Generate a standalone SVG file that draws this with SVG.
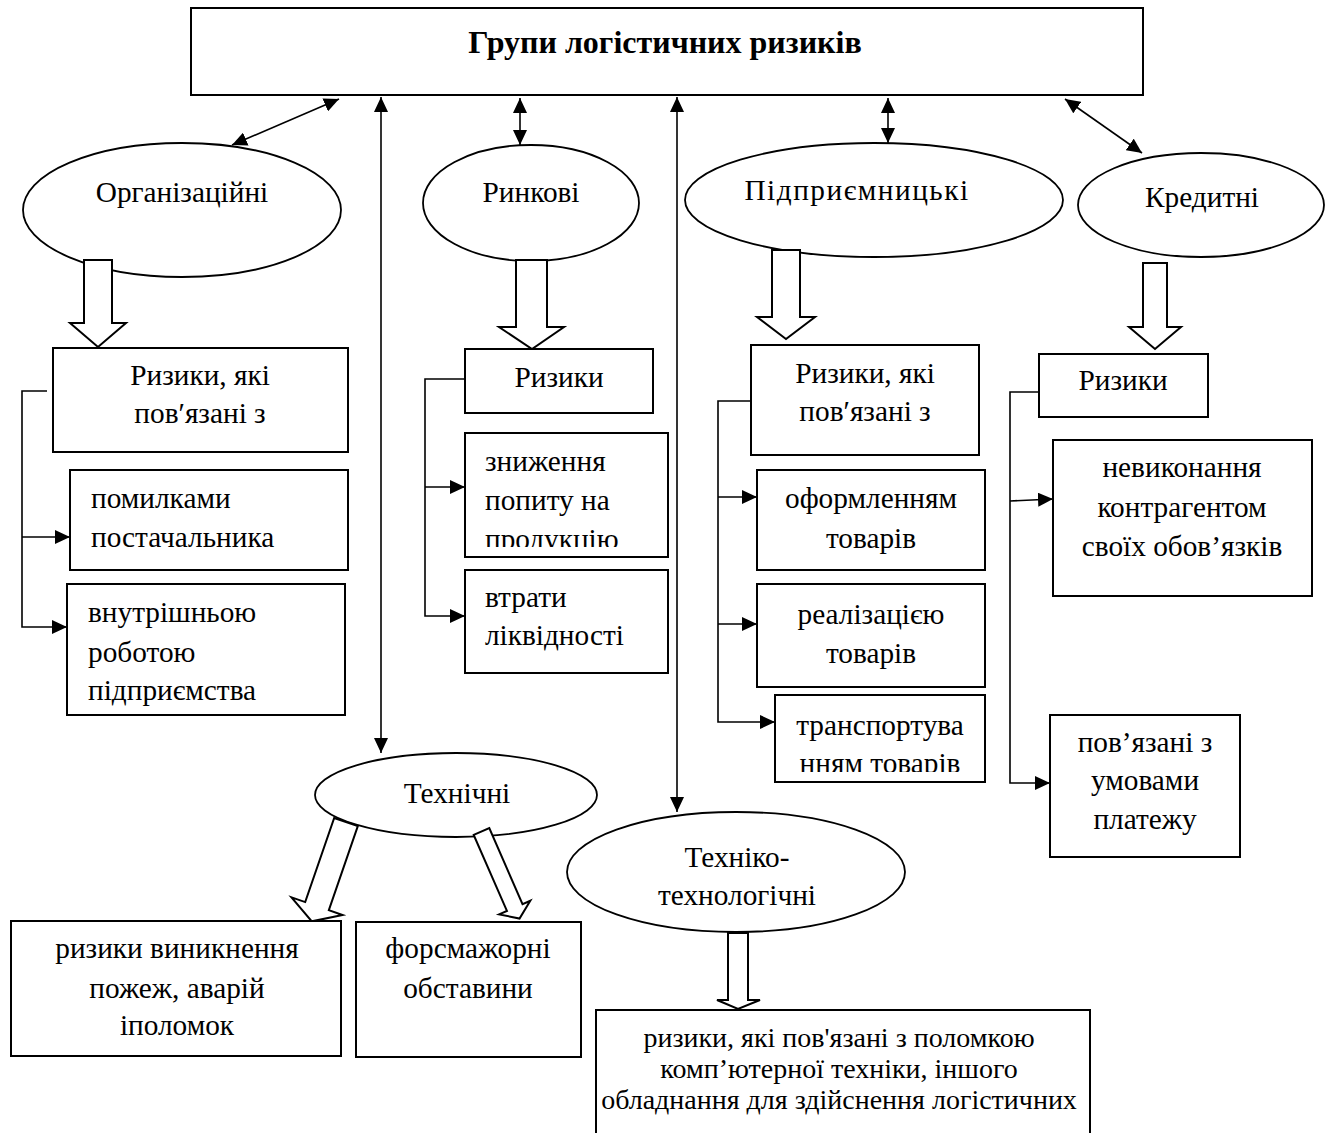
<svg xmlns="http://www.w3.org/2000/svg" width="1334" height="1133" viewBox="0 0 1334 1133">
<style>
.box{fill:#fff;stroke:#000;stroke-width:2}
.ell{fill:#fff;stroke:#000;stroke-width:1.8}
.ln{fill:none;stroke:#000;stroke-width:1.6}
.ba{fill:#fff;stroke:#000;stroke-width:2;stroke-linejoin:miter}
.t{font-family:"Liberation Serif","Times New Roman",serif;font-size:29.3px;fill:#000}
.c{text-anchor:middle}
.b{font-weight:bold;font-size:32px}
.s{font-size:28px}
</style>
<defs>
<marker id="ah" markerUnits="userSpaceOnUse" markerWidth="15" markerHeight="14" viewBox="0 0 15 14" refX="15" refY="7" orient="auto-start-reverse"><path d="M0,0 L15,7 L0,14 z" fill="#000"/></marker>
<clipPath id="clipA"><rect x="466" y="434" width="201" height="113"/></clipPath>
<clipPath id="clipB"><rect x="776" y="696" width="208" height="76"/></clipPath>
</defs>
<rect width="1334" height="1133" fill="#fff"/>

<g id="top">
<rect class="box" x="191" y="8" width="952" height="87"/>
<text class="t c b" x="665" y="53">Групи логістичних ризиків</text>
</g>

<g id="connectors">
<line class="ln" x1="339" y1="99" x2="232" y2="145" marker-start="url(#ah)" marker-end="url(#ah)"/>
<line class="ln" x1="381" y1="97" x2="381" y2="753" marker-start="url(#ah)" marker-end="url(#ah)"/>
<line class="ln" x1="520" y1="98" x2="520" y2="145" marker-start="url(#ah)" marker-end="url(#ah)"/>
<line class="ln" x1="677" y1="97" x2="677" y2="812" marker-start="url(#ah)" marker-end="url(#ah)"/>
<line class="ln" x1="888" y1="98" x2="888" y2="143" marker-start="url(#ah)" marker-end="url(#ah)"/>
<line class="ln" x1="1065" y1="99" x2="1142" y2="153" marker-start="url(#ah)" marker-end="url(#ah)"/>
<path class="ln" d="M47,391 H22 V627 H67" marker-end="url(#ah)"/>
<path class="ln" d="M22,537 H70" marker-end="url(#ah)"/>
<path class="ln" d="M465,379 H425 V616 H465" marker-end="url(#ah)"/>
<path class="ln" d="M425,487 H465" marker-end="url(#ah)"/>
<path class="ln" d="M755,401 H718 V722 H775" marker-end="url(#ah)"/>
<path class="ln" d="M718,497 H757" marker-end="url(#ah)"/>
<path class="ln" d="M718,624 H757" marker-end="url(#ah)"/>
<path class="ln" d="M1039,392 H1010 V783 H1050" marker-end="url(#ah)"/>
<path class="ln" d="M1010,501 L1053,499" marker-end="url(#ah)"/>
</g>

<g id="org">
<ellipse class="ell" cx="182" cy="210" rx="159" ry="67"/>
<text class="t c" x="182" y="202">Організаційні</text>
</g>
<g id="market">
<ellipse class="ell" cx="531" cy="203" rx="108" ry="58"/>
<text class="t c" x="531" y="202">Ринкові</text>
</g>
<g id="entre">
<ellipse class="ell" cx="874" cy="200" rx="189" ry="57"/>
<text class="t c" x="857" y="200" letter-spacing="1.5">Підприємницькі</text>
</g>
<g id="credit">
<ellipse class="ell" cx="1201" cy="205" rx="123" ry="52"/>
<text class="t c" x="1202" y="207">Кредитні</text>
</g>
<g id="tech">
<ellipse class="ell" cx="456" cy="795" rx="141" ry="42"/>
<text class="t c" x="457" y="803">Технічні</text>
</g>
<g id="techno">
<ellipse class="ell" cx="736" cy="872" rx="169" ry="60"/>
<text class="t c" x="737" y="867">Техніко-</text>
<text class="t c" x="737" y="905">технологічні</text>
</g>

<g id="block-arrows">
<polygon class="ba" points="84,260 112,260 112,323 126,323 98,347 70,323 84,323"/>
<polygon class="ba" points="516,260 547,260 547,327 564,327 532,349 499,327 516,327"/>
<polygon class="ba" points="772,250 800,250 800,317 815,317 786,339 757,317 772,317"/>
<polygon class="ba" points="1143,263 1167,263 1167,327 1181,327 1155,349 1129,327 1143,327"/>
<polygon class="ba" points="728,933 748,933 748,1000 760,1000 738,1009 717,1000 728,1000"/>
<polygon class="ba" transform="translate(346,822) rotate(19)" points="-12.5,0 12.5,0 12.5,89 27,89 0,105 -27,89 -12.5,89"/>
<polygon class="ba" transform="translate(481.5,831.5) rotate(-23.6)" points="-8.5,0 8.5,0 8.5,83 17,83 0,95 -17,83 -8.5,83"/>
</g>

<g id="org-main">
<rect class="box" x="53" y="348" width="295" height="104"/>
<text class="t c" x="200" y="385">Ризики, які</text>
<text class="t c" x="200" y="423">пов′язані з</text>
</g>
<g id="org-1">
<rect class="box" x="70" y="470" width="278" height="100"/>
<text class="t" x="91" y="508">помилками</text>
<text class="t" x="91" y="547">постачальника</text>
</g>
<g id="org-2">
<rect class="box" x="67" y="584" width="278" height="131"/>
<text class="t" x="88" y="622">внутрішньою</text>
<text class="t" x="88" y="662">роботою</text>
<text class="t" x="88" y="700">підприємства</text>
</g>

<g id="market-main">
<rect class="box" x="465" y="349" width="188" height="64"/>
<text class="t c" x="559" y="387">Ризики</text>
</g>
<g id="market-1">
<rect class="box" x="465" y="433" width="203" height="124"/>
<g clip-path="url(#clipA)">
<text class="t" x="485" y="471">зниження</text>
<text class="t" x="485" y="510">попиту на</text>
<text class="t" x="485" y="549">продукцію</text>
</g>
</g>
<g id="market-2">
<rect class="box" x="465" y="570" width="203" height="103"/>
<text class="t" x="485" y="607">втрати</text>
<text class="t" x="485" y="645">ліквідності</text>
</g>

<g id="entre-main">
<rect class="box" x="751" y="345" width="228" height="110"/>
<text class="t c" x="865" y="383">Ризики, які</text>
<text class="t c" x="865" y="421">пов′язані з</text>
</g>
<g id="entre-1">
<rect class="box" x="757" y="470" width="228" height="100"/>
<text class="t c" x="871" y="508">оформленням</text>
<text class="t c" x="871" y="548">товарів</text>
</g>
<g id="entre-2">
<rect class="box" x="757" y="584" width="228" height="103"/>
<text class="t c" x="871" y="624">реалізацією</text>
<text class="t c" x="871" y="663">товарів</text>
</g>
<g id="entre-3">
<rect class="box" x="775" y="695" width="210" height="87"/>
<g clip-path="url(#clipB)">
<text class="t c" x="880" y="735">транспортува</text>
<text class="t c" x="880" y="773">нням товарів</text>
</g>
</g>

<g id="credit-main">
<rect class="box" x="1039" y="354" width="169" height="63"/>
<text class="t c" x="1123" y="390">Ризики</text>
</g>
<g id="credit-1">
<rect class="box" x="1053" y="440" width="259" height="156"/>
<text class="t c" x="1182" y="477">невиконання</text>
<text class="t c" x="1182" y="517">контрагентом</text>
<text class="t c" x="1182" y="556">своїх обов’язків</text>
</g>
<g id="credit-2">
<rect class="box" x="1050" y="715" width="190" height="142"/>
<text class="t c" x="1145" y="752">пов’язані з</text>
<text class="t c" x="1145" y="790">умовами</text>
<text class="t c" x="1145" y="829">платежу</text>
</g>

<g id="tech-1">
<rect class="box" x="11" y="921" width="330" height="135"/>
<text class="t c" x="177" y="958">ризики виникнення</text>
<text class="t c" x="177" y="998">пожеж, аварій</text>
<text class="t c" x="177" y="1035">іполомок</text>
</g>
<g id="tech-2">
<rect class="box" x="356" y="922" width="225" height="135"/>
<text class="t c" x="468" y="958">форсмажорні</text>
<text class="t c" x="468" y="998">обставини</text>
</g>

<g id="techno-1">
<rect class="box" x="596" y="1010" width="494" height="140"/>
<text class="t c s" x="839" y="1047">ризики, які пов'язані з поломкою</text>
<text class="t c s" x="839" y="1078">комп’ютерної техніки, іншого</text>
<text class="t c s" x="839" y="1109">обладнання для здійснення логістичних</text>
</g>
</svg>
